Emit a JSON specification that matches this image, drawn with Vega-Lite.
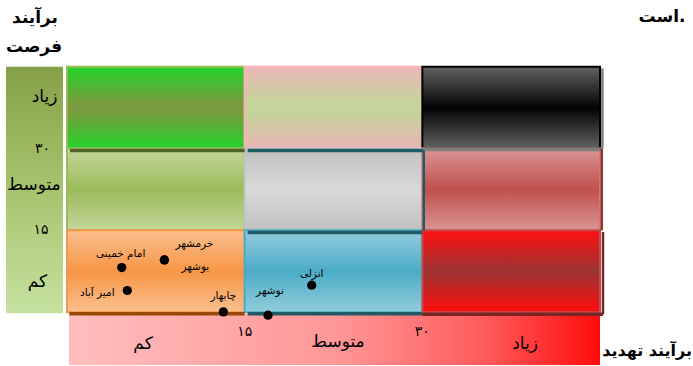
{
  "$schema": "https://vega.github.io/schema/vega-lite/v6.json",
  "width": 693,
  "height": 366,
  "autosize": {"type": "fit", "contains": "padding"},
  "padding": 0,
  "background": "white",
  "config": {"view": {"stroke": null}, "text": {"font": "DejaVu Sans"}},
  "datasets": {
    "cells": [
      {"id": "r1c1", "threat": "کم", "opportunity": "زیاد", "x": 0, "x2v": 15, "y": 30, "y2v": 45},
      {"id": "r1c2", "threat": "متوسط", "opportunity": "زیاد", "x": 15, "x2v": 30, "y": 30, "y2v": 45},
      {"id": "r1c3", "threat": "زیاد", "opportunity": "زیاد", "x": 30, "x2v": 45, "y": 30, "y2v": 45},
      {"id": "r2c1", "threat": "کم", "opportunity": "متوسط", "x": 0, "x2v": 15, "y": 15, "y2v": 30},
      {"id": "r2c2", "threat": "متوسط", "opportunity": "متوسط", "x": 15, "x2v": 30, "y": 15, "y2v": 30},
      {"id": "r2c3", "threat": "زیاد", "opportunity": "متوسط", "x": 30, "x2v": 45, "y": 15, "y2v": 30},
      {"id": "r3c1", "threat": "کم", "opportunity": "کم", "x": 0, "x2v": 15, "y": 0, "y2v": 15},
      {"id": "r3c2", "threat": "متوسط", "opportunity": "کم", "x": 15, "x2v": 30, "y": 0, "y2v": 15},
      {"id": "r3c3", "threat": "زیاد", "opportunity": "کم", "x": 30, "x2v": 45, "y": 0, "y2v": 15}
    ],
    "bands": [
      {"id": "opportunity", "x": -5.15, "x2v": -0.34, "y": -0.2, "y2v": 45},
      {"id": "threat", "x": 0.17, "x2v": 45, "y": -9.7, "y2v": -0.37}
    ],
    "hedges": [
      {"cell": "r2c1", "x": 0.25, "x2v": 15, "y": 29.65},
      {"cell": "r2c2", "x": 15.25, "x2v": 30.1, "y": 29.65},
      {"cell": "r1c3", "x": 30.1, "x2v": 45.2, "y": 29.85},
      {"cell": "r3c2", "x": 15.25, "x2v": 30, "y": 14.6},
      {"cell": "r3c1", "x": 0.2, "x2v": 15, "y": -0.3},
      {"cell": "r3c2", "x": 15.25, "x2v": 30, "y": -0.3},
      {"cell": "r3c3", "x": 30, "x2v": 45.25, "y": -0.4}
    ],
    "vedges": [
      {"cell": "r2c2", "x": 30.12, "y": 15, "y2v": 29.65},
      {"cell": "r1c3", "x": 45.2, "y": 30, "y2v": 44.7},
      {"cell": "r2c3", "x": 45.15, "y": 15, "y2v": 30},
      {"cell": "r3c3", "x": 45.25, "y": -0.4, "y2v": 14.7}
    ],
    "ports": [
      {"name": "امام خمینی", "x": 4.62, "y": 8.18},
      {"name": "خرمشهر", "x": 8.22, "y": 9.57},
      {"name": "بوشهر", "x": 8.22, "y": 9.57},
      {"name": "امیر آباد", "x": 5.09, "y": 3.97},
      {"name": "چابهار", "x": 13.2, "y": 0.05},
      {"name": "نوشهر", "x": 16.97, "y": -0.55},
      {"name": "انزلی", "x": 20.66, "y": 4.94}
    ],
    "labels": [
      {"text": "برآیند", "x": -2.7, "y": 53.96, "role": "title"},
      {"text": "فرصت", "x": -2.79, "y": 48.66, "role": "title"},
      {"text": "است.", "x": 50.24, "y": 54.15, "role": "note"},
      {"text": "برآیند تهدید", "x": 52.77, "y": -7.13, "role": "titleright"},
      {"text": "زیاد", "x": -1.9, "y": 39.5, "role": "word"},
      {"text": "متوسط", "x": -2.79, "y": 23.4, "role": "word"},
      {"text": "کم", "x": -2.49, "y": 5.49, "role": "word"},
      {"text": "کم", "x": 6.42, "y": -5.85, "role": "word"},
      {"text": "متوسط", "x": 22.88, "y": -5.49, "role": "word"},
      {"text": "زیاد", "x": 38.67, "y": -5.85, "role": "word"},
      {"text": "۳۰", "x": -2.06, "y": 30, "role": "num"},
      {"text": "۱۵", "x": -2.2, "y": 15, "role": "num"},
      {"text": "۱۵", "x": 15, "y": -3.66, "role": "num"},
      {"text": "۳۰", "x": 30, "y": -3.66, "role": "num"}
    ]
  },
  "encoding": {
    "x": {"field": "x", "type": "quantitative", "scale": {"domain": [-5.657, 52.85], "nice": false, "zero": false}, "axis": null},
    "y": {"field": "y", "type": "quantitative", "scale": {"domain": [-9.695, 57.256], "nice": false, "zero": false}, "axis": null}
  },
  "layer": [
    {
      "data": {"name": "bands"},
      "transform": [{"filter": "datum.id === 'opportunity'"}],
      "mark": {"type": "rect", "fill": {"gradient": "linear", "x1": 0, "y1": 0, "x2": 0, "y2": 1, "stops": [{"offset": 0, "color": "#85a048"}, {"offset": 0.5, "color": "#a6c46e"}, {"offset": 1, "color": "#c5e1a0"}]}},
      "encoding": {"x2": {"field": "x2v"}, "y2": {"field": "y2v"}}
    },
    {
      "data": {"name": "bands"},
      "transform": [{"filter": "datum.id === 'threat'"}],
      "mark": {"type": "rect", "fill": {"gradient": "linear", "x1": 0, "y1": 0, "x2": 1, "y2": 0, "stops": [{"offset": 0, "color": "#ffbebe"}, {"offset": 0.5, "color": "#ff9898"}, {"offset": 0.78, "color": "#ff5c5c"}, {"offset": 1, "color": "#ff0c0c"}]}},
      "encoding": {"x2": {"field": "x2v"}, "y2": {"field": "y2v"}}
    },
    {
      "data": {"name": "cells"},
      "transform": [{"filter": "datum.id === 'r1c1'"}],
      "mark": {"type": "rect", "stroke": "#9bbb59", "strokeWidth": 2, "fill": {"gradient": "linear", "x1": 0, "y1": 0, "x2": 0, "y2": 1, "stops": [{"offset": 0, "color": "#22d42a"}, {"offset": 0.45, "color": "#7a9a3f"}, {"offset": 0.55, "color": "#7a9a3f"}, {"offset": 1, "color": "#22d42a"}]}},
      "encoding": {"x2": {"field": "x2v"}, "y2": {"field": "y2v"}}
    },
    {
      "data": {"name": "cells"},
      "transform": [{"filter": "datum.id === 'r1c2'"}],
      "mark": {"type": "rect", "stroke": "#ffb3b3", "strokeWidth": 2, "fill": {"gradient": "linear", "x1": 0, "y1": 0, "x2": 0, "y2": 1, "stops": [{"offset": 0, "color": "#ebb7b7"}, {"offset": 0.45, "color": "#c4d49a"}, {"offset": 0.55, "color": "#c4d49a"}, {"offset": 1, "color": "#e8b5b5"}]}},
      "encoding": {"x2": {"field": "x2v"}, "y2": {"field": "y2v"}}
    },
    {
      "data": {"name": "cells"},
      "transform": [{"filter": "datum.id === 'r1c3'"}],
      "mark": {"type": "rect", "stroke": "#000000", "strokeWidth": 2, "fill": {"gradient": "linear", "x1": 0, "y1": 0, "x2": 0, "y2": 1, "stops": [{"offset": 0, "color": "#626262"}, {"offset": 0.5, "color": "#030303"}, {"offset": 1, "color": "#636363"}]}},
      "encoding": {"x2": {"field": "x2v"}, "y2": {"field": "y2v"}}
    },
    {
      "data": {"name": "cells"},
      "transform": [{"filter": "datum.id === 'r2c1'"}],
      "mark": {"type": "rect", "stroke": "#9bbb59", "strokeWidth": 2, "fill": {"gradient": "linear", "x1": 0, "y1": 0, "x2": 0, "y2": 1, "stops": [{"offset": 0, "color": "#c3d69b"}, {"offset": 0.5, "color": "#9bbb59"}, {"offset": 1, "color": "#c3d69b"}]}},
      "encoding": {"x2": {"field": "x2v"}, "y2": {"field": "y2v"}}
    },
    {
      "data": {"name": "cells"},
      "transform": [{"filter": "datum.id === 'r2c2'"}],
      "mark": {"type": "rect", "stroke": "#c4c4c4", "strokeWidth": 2, "fill": {"gradient": "linear", "x1": 0, "y1": 0, "x2": 0, "y2": 1, "stops": [{"offset": 0, "color": "#c0c0c0"}, {"offset": 0.5, "color": "#d9d9d9"}, {"offset": 1, "color": "#c0c0c0"}]}},
      "encoding": {"x2": {"field": "x2v"}, "y2": {"field": "y2v"}}
    },
    {
      "data": {"name": "cells"},
      "transform": [{"filter": "datum.id === 'r2c3'"}],
      "mark": {"type": "rect", "stroke": "#cf7b79", "strokeWidth": 2, "fill": {"gradient": "linear", "x1": 0, "y1": 0, "x2": 0, "y2": 1, "stops": [{"offset": 0, "color": "#d99594"}, {"offset": 0.5, "color": "#c0504d"}, {"offset": 1, "color": "#d99594"}]}},
      "encoding": {"x2": {"field": "x2v"}, "y2": {"field": "y2v"}}
    },
    {
      "data": {"name": "cells"},
      "transform": [{"filter": "datum.id === 'r3c1'"}],
      "mark": {"type": "rect", "stroke": "#f79646", "strokeWidth": 2, "fill": {"gradient": "linear", "x1": 0, "y1": 0, "x2": 0, "y2": 1, "stops": [{"offset": 0, "color": "#fbc08f"}, {"offset": 0.5, "color": "#f79646"}, {"offset": 1, "color": "#fbc08f"}]}},
      "encoding": {"x2": {"field": "x2v"}, "y2": {"field": "y2v"}}
    },
    {
      "data": {"name": "cells"},
      "transform": [{"filter": "datum.id === 'r3c2'"}],
      "mark": {"type": "rect", "stroke": "#4bacc6", "strokeWidth": 2, "fill": {"gradient": "linear", "x1": 0, "y1": 0, "x2": 0, "y2": 1, "stops": [{"offset": 0, "color": "#93cddd"}, {"offset": 0.5, "color": "#4bacc6"}, {"offset": 1, "color": "#93cddd"}]}},
      "encoding": {"x2": {"field": "x2v"}, "y2": {"field": "y2v"}}
    },
    {
      "data": {"name": "cells"},
      "transform": [{"filter": "datum.id === 'r3c3'"}],
      "mark": {"type": "rect", "stroke": "#c05050", "strokeWidth": 2, "fill": {"gradient": "linear", "x1": 0, "y1": 0, "x2": 0, "y2": 1, "stops": [{"offset": 0, "color": "#ff1010"}, {"offset": 0.5, "color": "#9b3434"}, {"offset": 1, "color": "#ff0c0c"}]}},
      "encoding": {"x2": {"field": "x2v"}, "y2": {"field": "y2v"}}
    },
    {
      "data": {"name": "hedges"},
      "mark": {"type": "rule", "strokeWidth": 3.5},
      "encoding": {
        "x2": {"field": "x2v"},
        "color": {"field": "cell", "type": "nominal", "legend": null, "scale": {"domain": ["r1c3", "r2c1", "r2c2", "r2c3", "r3c1", "r3c2", "r3c3"], "range": ["#7f7f7f", "#4f6228", "#215967", "#943634", "#984807", "#215967", "#7a2424"]}}
      }
    },
    {
      "data": {"name": "vedges"},
      "mark": {"type": "rule", "strokeWidth": 2.5},
      "encoding": {
        "y2": {"field": "y2v"},
        "color": {"field": "cell", "type": "nominal", "legend": null, "scale": {"domain": ["r1c3", "r2c1", "r2c2", "r2c3", "r3c1", "r3c2", "r3c3"], "range": ["#7f7f7f", "#4f6228", "#215967", "#943634", "#984807", "#215967", "#7a2424"]}}
      }
    },
    {
      "data": {"name": "ports"},
      "mark": {"type": "circle", "color": "#000000", "opacity": 1, "size": 85}
    },
    {
      "data": {"name": "ports"},
      "transform": [{"filter": "datum.name === 'امام خمینی'"}],
      "mark": {"type": "text", "fontSize": 10.5, "color": "#000000", "baseline": "middle", "align": "center", "dx": -1, "dy": -14},
      "encoding": {"text": {"field": "name"}}
    },
    {
      "data": {"name": "ports"},
      "transform": [{"filter": "datum.name === 'خرمشهر'"}],
      "mark": {"type": "text", "fontSize": 10.5, "color": "#000000", "baseline": "middle", "align": "center", "dx": 30, "dy": -16},
      "encoding": {"text": {"field": "name"}}
    },
    {
      "data": {"name": "ports"},
      "transform": [{"filter": "datum.name === 'بوشهر'"}],
      "mark": {"type": "text", "fontSize": 10.5, "color": "#000000", "baseline": "middle", "align": "center", "dx": 31, "dy": 7},
      "encoding": {"text": {"field": "name"}}
    },
    {
      "data": {"name": "ports"},
      "transform": [{"filter": "datum.name === 'امیر آباد'"}],
      "mark": {"type": "text", "fontSize": 10.5, "color": "#000000", "baseline": "middle", "align": "center", "dx": -30, "dy": 2},
      "encoding": {"text": {"field": "name"}}
    },
    {
      "data": {"name": "ports"},
      "transform": [{"filter": "datum.name === 'چابهار'"}],
      "mark": {"type": "text", "fontSize": 10.5, "color": "#000000", "baseline": "middle", "align": "center", "dx": 0, "dy": -16},
      "encoding": {"text": {"field": "name"}}
    },
    {
      "data": {"name": "ports"},
      "transform": [{"filter": "datum.name === 'نوشهر'"}],
      "mark": {"type": "text", "fontSize": 10.5, "color": "#000000", "baseline": "middle", "align": "center", "dx": 2, "dy": -24},
      "encoding": {"text": {"field": "name"}}
    },
    {
      "data": {"name": "ports"},
      "transform": [{"filter": "datum.name === 'انزلی'"}],
      "mark": {"type": "text", "fontSize": 10.5, "color": "#000000", "baseline": "middle", "align": "center", "dx": 0, "dy": -11},
      "encoding": {"text": {"field": "name"}}
    },
    {
      "data": {"name": "labels"},
      "transform": [{"filter": "datum.role === 'word'"}],
      "mark": {"type": "text", "fontSize": 17, "color": "#000000", "baseline": "middle", "align": "center"},
      "encoding": {"text": {"field": "text"}}
    },
    {
      "data": {"name": "labels"},
      "transform": [{"filter": "datum.role === 'num'"}],
      "mark": {"type": "text", "fontSize": 14, "color": "#000000", "baseline": "middle", "align": "center"},
      "encoding": {"text": {"field": "text"}}
    },
    {
      "data": {"name": "labels"},
      "transform": [{"filter": "datum.role === 'title'"}],
      "mark": {"type": "text", "fontSize": 17, "fontWeight": "bold", "color": "#000000", "baseline": "middle", "align": "center"},
      "encoding": {"text": {"field": "text"}}
    },
    {
      "data": {"name": "labels"},
      "transform": [{"filter": "datum.role === 'note'"}],
      "mark": {"type": "text", "fontSize": 17, "fontWeight": "bold", "color": "#000000", "baseline": "middle", "align": "center"},
      "encoding": {"text": {"field": "text"}}
    },
    {
      "data": {"name": "labels"},
      "transform": [{"filter": "datum.role === 'titleright'"}],
      "mark": {"type": "text", "fontSize": 16, "fontWeight": "bold", "color": "#000000", "baseline": "middle", "align": "right"},
      "encoding": {"text": {"field": "text"}}
    }
  ]
}
